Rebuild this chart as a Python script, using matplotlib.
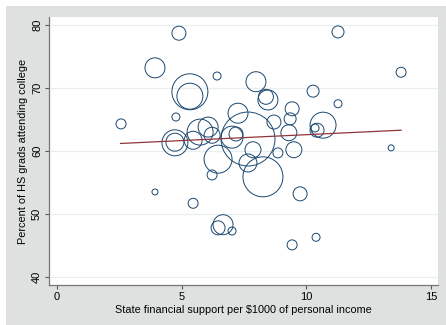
import numpy as np
import matplotlib.pyplot as plt
from matplotlib.patches import Rectangle

# state-level data (weight = bubble size)
support = [4.89, 11.27, 3.93, 13.8, 6.42, 7.98, 5.33, 5.33, 10.27, 8.46,
           8.38, 11.27, 9.43, 2.57, 4.77, 7.26, 8.7, 9.35, 9.3, 9.5,
           10.67, 10.43, 10.35, 9.75, 9.43, 10.39, 13.4, 3.93, 5.46, 6.66,
           6.46, 7.02, 6.22, 8.26, 7.66, 6.46, 4.73, 4.73, 5.74, 6.06,
           6.22, 5.46, 7.66, 7.02, 7.18, 7.86, 8.86]
attend = [78.7, 78.9, 73.2, 72.5, 71.9, 71.0, 69.4, 68.7, 69.5, 68.1,
          68.6, 67.5, 66.7, 64.3, 65.4, 66.0, 64.6, 65.1, 62.9, 60.2,
          64.1, 63.3, 63.65, 53.2, 45.1, 46.3, 60.5, 53.5, 51.7, 48.3,
          47.8, 47.3, 56.2, 55.9, 58.1, 58.7, 61.3, 61.4, 63.0, 63.8,
          62.5, 61.7, 61.9, 62.2, 62.7, 60.2, 59.7]
weight = [49, 36, 100, 25, 16, 100, 324, 169, 36, 100,
          56, 16, 49, 25, 16, 100, 49, 36, 64, 64,
          169, 49, 16, 49, 25, 16, 9, 9, 25, 100,
          49, 16, 25, 400, 81, 196, 169, 81, 169, 100,
          64, 81, 729, 121, 49, 64, 25]

# linear fit line
fit_x = [2.55, 13.8]
fit_intercept = 60.72
fit_slope = 0.187

fig = plt.figure(figsize=(4.46, 3.25), dpi=100, facecolor='white')
fig.patches.append(Rectangle((6 / 446, 0), 1, 1 - 6 / 325, transform=fig.transFigure,
                             facecolor='#dfe1e1', edgecolor='none', zorder=-10))

ax = fig.add_axes([49 / 446, 40 / 325, 389 / 446, 268 / 325])
ax.set_facecolor('white')

ax.scatter(support, attend, s=np.array(weight) * 2.07, facecolors='none',
           edgecolors='#1a476f', linewidths=0.7, zorder=3)
fx = np.array(fit_x)
ax.plot(fx, fit_intercept + fit_slope * fx, color='#90353b', lw=0.9, zorder=4)

ax.set_xlim(-0.32, 15.28)
ax.set_ylim(38.73, 81.27)
ax.set_xticks([0, 5, 10, 15])
ax.set_yticks([40, 50, 60, 70, 80])
ax.grid(axis='y', color='#e8eff0', lw=0.9)
ax.set_axisbelow(True)

for s in ['top', 'right']:
    ax.spines[s].set_visible(False)
for s in ['left', 'bottom']:
    ax.spines[s].set_color('#777777')
    ax.spines[s].set_linewidth(0.9)

plt.rcParams['font.family'] = ['Liberation Sans', 'DejaVu Sans']
ax.tick_params(colors='#555555', labelcolor='black', length=3, width=0.8,
               labelsize=8, pad=2)
for lab in ax.get_xticklabels() + ax.get_yticklabels():
    lab.set_family('Liberation Sans')
plt.setp(ax.get_yticklabels(), rotation=90, va='center')

ax.set_xlabel('State financial support per $1000 of personal income',
              fontsize=7.8, family='Liberation Sans', labelpad=2)
ax.set_ylabel('Percent of HS grads attending college',
              fontsize=7.8, family='Liberation Sans', labelpad=3)

fig.savefig('out.png', dpi=100, facecolor=fig.get_facecolor())
